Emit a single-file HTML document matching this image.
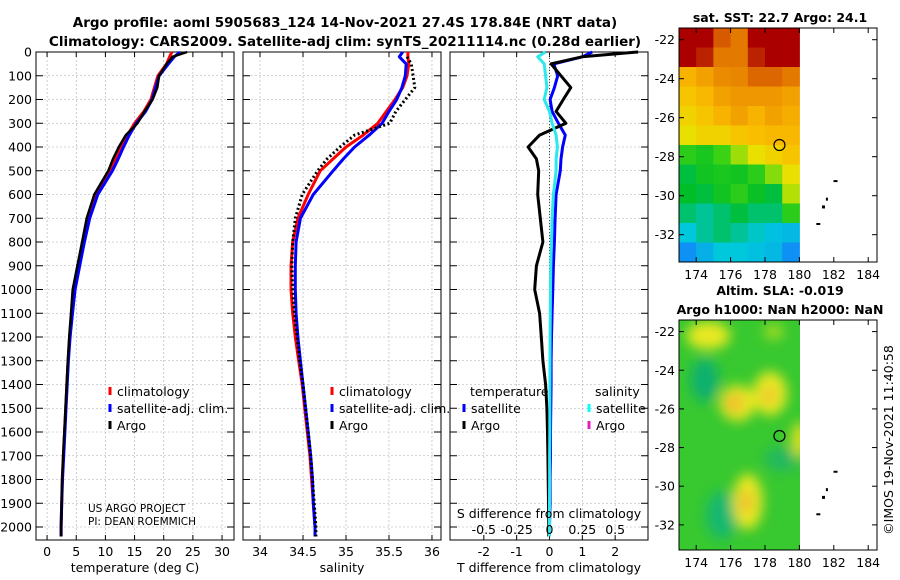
<!DOCTYPE html>
<html><head><meta charset="utf-8"><style>
body{margin:0;background:#fff}
svg{display:block;font-family:"DejaVu Sans","Liberation Sans",sans-serif}
</style></head><body>
<svg id="fig" width="900" height="580" viewBox="0 0 900 580" xmlns="http://www.w3.org/2000/svg">
<defs><filter id="blur" x="-50%" y="-50%" width="200%" height="200%"><feGaussianBlur stdDeviation="6"/></filter>
<clipPath id="slaclip"><rect x="679" y="320" width="121" height="230"/></clipPath></defs>
<text x="345" y="27" font-size="13.5" font-weight="bold" text-anchor="middle">Argo profile: aoml 5905683_124 14-Nov-2021 27.4S 178.84E (NRT data)</text>
<text x="345" y="46" font-size="13.5" font-weight="bold" text-anchor="middle">Climatology: CARS2009. Satellite-adj clim: synTS_20211114.nc (0.28d earlier)</text>
<g id="panels"></g>
<g id="maps"></g>
<text transform="translate(893,440) rotate(-90)" font-size="12.5" text-anchor="middle">©IMOS 19-Nov-2021 11:40:58</text>
</svg>
<script>
const depths=[0,20,50,100,150,200,250,300,350,400,450,500,600,700,800,900,1000,1100,1200,1300,1400,1500,1600,1700,1800,1900,2000,2040];
const tempClim=[21.4,21.0,20.5,19.0,18.4,17.8,16.6,15.0,13.8,12.7,11.8,10.8,8.3,7.0,6.2,5.5,4.7,4.3,3.9,3.6,3.4,3.2,3.0,2.8,2.6,2.5,2.4,2.4];
const tempSat=[22.8,21.8,20.8,19.2,18.6,18.0,16.9,15.3,14.1,13.1,12.2,11.2,8.7,7.3,6.4,5.6,4.8,4.35,3.95,3.65,3.45,3.25,3.05,2.85,2.65,2.5,2.4,2.4];
const tempArgo=[24.0,21.5,20.5,19.2,18.9,18.1,16.7,15.5,13.5,12.3,11.3,10.5,8.1,6.8,6.0,5.2,4.4,4.1,3.8,3.55,3.35,3.15,2.95,2.75,2.6,2.5,2.4,2.4];
const salClim=[35.72,35.72,35.73,35.71,35.66,35.57,35.47,35.37,35.2,35.0,34.85,34.70,34.56,34.44,34.38,34.36,34.36,34.38,34.41,34.45,34.49,34.52,34.55,34.58,34.60,34.62,34.64,34.64];
const salSat=[35.66,35.62,35.70,35.69,35.65,35.59,35.5,35.42,35.27,35.1,34.97,34.85,34.62,34.47,34.42,34.41,34.41,34.42,34.44,34.47,34.5,34.53,34.56,34.59,34.61,34.62,34.64,34.64];
const salArgo=[null,35.71,35.76,35.78,35.8,35.69,35.58,35.51,35.1,34.93,34.78,34.67,34.49,34.41,34.38,34.37,34.38,34.4,34.43,34.46,34.5,34.53,34.56,34.59,34.61,34.63,34.65,34.65];
const dTArgo=[2.7,1.0,0.05,0.35,0.65,0.42,0.2,0.5,-0.3,-0.65,-0.4,-0.33,-0.36,-0.28,-0.2,-0.4,-0.45,-0.3,-0.25,-0.2,-0.12,-0.08,-0.06,-0.05,-0.04,-0.03,-0.02,-0.02];
const dTSat=[1.3,1.0,0.13,0.25,0.15,0.02,0.08,0.27,0.48,0.4,0.35,0.33,0.2,0.17,0.15,0.12,0.1,0.08,0.06,0.05,0.05,0.04,0.03,0.03,0.02,0.02,0.0,0.0];
const dSSat=[-0.03,-0.09,-0.04,-0.03,-0.02,-0.04,0.0,0.02,0.05,0.06,0.05,0.05,0.03,0.02,0.015,0.01,0.008,0.006,0.005,0.004,0.003,0.002,0.002,0.001,0.001,0.0,0.0,0.0];
const depthTicks=[0,100,200,300,400,500,600,700,800,900,1000,1100,1200,1300,1400,1500,1600,1700,1800,1900,2000];
const tTicks=[0,5,10,15,20,25,30];
const sTicks=[34,34.5,35,35.5,36];
const dTTicks=[-2,-1,0,1,2];
const dTTickLabels=["-2","-1","0","1","2"];
const dSTicks=[-0.5,-0.25,0,0.25,0.5];
const dSTickLabels=["-0.5","-0.25","0","0.25","0.5"];
const sstLats=[-21.4,-22.4,-23.4,-24.4,-25.4,-26.4,-27.4,-28.4,-29.4,-30.4,-31.4,-32.4,-33.4];
const sstLons=[173,174,175,176,177,178,179,180];
const sstVals=[
[26,26,25,24.5,26,26,26],[26,25.5,24.5,24.5,25.5,26,26],[23.5,23.8,24.2,24.3,24.8,24.8,24.5],
[23.2,23.4,23.8,24,24,24,23.8],[23,23.2,23.5,23.8,23.5,23.8,23.6],[22.8,23,23,23.2,23.3,23.4,23.4],
[21.8,21.6,22,22.4,22.8,23,23.2],[21.2,21.5,21.6,21.5,21.8,22.3,22.8],[21.3,21.2,21.5,21.8,21.4,21.2,22.5],
[21,20.8,21,21.2,21,21,21.8],[20.5,20.8,21,20.8,20.6,20.4,20.3],[19.8,20.2,20.5,20.5,20.4,20.3,19.8]];
const latTicks=[-22,-24,-26,-28,-30,-32];
const lonTicks=[174,176,178,180,182,184];
const NS="http://www.w3.org/2000/svg";
function mk(tag,attrs,parent,txt){const e=document.createElementNS(NS,tag);for(const k in attrs)e.setAttribute(k,attrs[k]);if(txt!==undefined)e.textContent=txt;parent.appendChild(e);return e;}
const P=document.getElementById('panels');
const Y=d=>52+d*0.2375;
function panel(x0,x1,xmin,xmax,ticks,labels,name,title){
 const g=mk('g',{},P);
 const X=v=>x0+(v-xmin)/(xmax-xmin)*(x1-x0);
 ticks.forEach((t,i)=>{const l=mk('line',{x1:X(t),x2:X(t),y1:52,y2:540,stroke:'#aab',"stroke-width":0.6,"stroke-dasharray":'2,2'},g);
   
   const tx=mk('text',{x:X(t),y:556,"font-size":12.5,"text-anchor":"middle"},g,labels[i]);
   
   mk('line',{x1:X(t),x2:X(t),y1:540,y2:535,stroke:'#000'},g);mk('line',{x1:X(t),x2:X(t),y1:52,y2:57,stroke:'#000'},g);});
 depthTicks.forEach(d=>{mk('line',{x1:x0,x2:x1,y1:Y(d),y2:Y(d),stroke:'#aab',"stroke-width":0.6,"stroke-dasharray":'2,2'},g);
   mk('line',{x1:x0,x2:x0+7,y1:Y(d),y2:Y(d),stroke:'#000'},g);mk('line',{x1:x1,x2:x1-7,y1:Y(d),y2:Y(d),stroke:'#000'},g);});
 const fr=mk('rect',{x:x0,y:52,width:x1-x0,height:488,fill:'none',stroke:'#000',"stroke-width":1},g);
 
 const at=mk('text',{x:(x0+x1)/2,y:572,"font-size":12.5,"text-anchor":"middle"},g,title);
 
 return {g,X};
}
function series(p,vals,color,name,dash,w){
 let d='';vals.forEach((v,i)=>{if(v===null)return;d+=(d?'L':'M')+p.X(v).toFixed(1)+','+Y(depths[i]).toFixed(1);});
 const e=mk('path',{d,fill:'none',stroke:color,"stroke-width":w||3,"stroke-linejoin":"round"},p.g);
 if(dash)e.setAttribute('stroke-dasharray',dash);
 
}
function legend(g,x,y,color,label,name){
 mk('line',{x1:x,x2:x,y1:y-9,y2:y-1,stroke:color,"stroke-width":3},g);
 const t=mk('text',{x:x+7,y:y,"font-size":12.5},g,label);
 
}
depthTicks.forEach(d=>{const t=mk('text',{x:32,y:Y(d)+4.5,"font-size":12.5,"text-anchor":"end"},P,String(d));
 });
const p1=panel(36,234,-1.9,32.05,tTicks,tTicks.map(String),'temperature-panel','temperature (deg C)');
series(p1,tempClim,'#f00','temp-climatology-line');series(p1,tempSat,'#00f','temp-satellite-line');series(p1,tempArgo,'#000','temp-argo-line',null,2.5);
legend(p1.g,110,396,'#f00','climatology','legend-climatology');legend(p1.g,110,413,'#00f','satellite-adj. clim.','legend-satellite');legend(p1.g,110,430,'#000','Argo','legend-argo');
let t1=mk('text',{x:88,y:512,"font-size":10.5},p1.g,'US ARGO PROJECT');
let t2=mk('text',{x:88,y:525,"font-size":10.5},p1.g,'PI: DEAN ROEMMICH');
const p2=panel(243,441,33.802,36.105,sTicks,sTicks.map(String),'salinity-panel','salinity');
series(p2,salClim,'#f00','sal-climatology-line');series(p2,salSat,'#00f','sal-satellite-line');series(p2,salArgo,'#000','sal-argo-line','2,2.5',3);
legend(p2.g,332,396,'#f00','climatology','legend-climatology');legend(p2.g,332,413,'#00f','satellite-adj. clim.','legend-satellite');legend(p2.g,332,430,'#000','Argo','legend-argo');
const p3=panel(450,648,-3.03,3.0,dTTicks,dTTickLabels,'difference-panel','T difference from climatology');
mk('line',{x1:p3.X(0),x2:p3.X(0),y1:52,y2:540,stroke:'#444',"stroke-width":1,"stroke-dasharray":'1,2'},p3.g);
series(p3,dTSat,'#00f','temp-diff-satellite-line');series(p3,dTArgo,'#000','temp-diff-argo-line');
series(p3,dSSat.map(v=>v*4),'#2ee8ee','sal-diff-satellite-line',null,3);
let tt=mk('text',{x:470,y:396,"font-size":12.5},p3.g,'temperature');
let ts=mk('text',{x:595,y:396,"font-size":12.5},p3.g,'salinity');
legend(p3.g,464,413,'#00f','satellite','legend-temp-satellite');legend(p3.g,464,430,'#000','Argo','legend-temp-argo');
legend(p3.g,589,413,'#0ff','satellite','legend-sal-satellite');legend(p3.g,589,430,'#e020c0','Argo','legend-sal-argo');
let sd=mk('text',{x:549,y:518,"font-size":12.5,"text-anchor":"middle"},p3.g,'S difference from climatology');
dSTicks.forEach((v,i)=>{const t=mk('text',{x:p3.X(v*4),y:534,"font-size":12.5,"text-anchor":"middle"},p3.g,dSTickLabels[i]);
 });
const M=document.getElementById('maps');
function sstColor(v){const st=[[19.5,[20,120,255]],[20.5,[0,200,220]],[21.3,[0,190,40]],[22.0,[60,210,20]],[22.7,[230,230,0]],[23.3,[250,190,0]],[24.2,[235,140,0]],[25.0,[215,90,0]],[25.8,[170,0,0]]];
 if(v<=st[0][0])return 'rgb('+st[0][1]+')';for(let i=1;i<st.length;i++){if(v<=st[i][0]){const f=(v-st[i-1][0])/(st[i][0]-st[i-1][0]);const c=st[i-1][1].map((a,k)=>Math.round(a+(st[i][1][k]-a)*f));return 'rgb('+c+')';}}return 'rgb('+st[st.length-1][1]+')';}
function mapAxes(y0,y1,latTop,latBot,name,titles){
 const g=mk('g',{},M);
 const LX=l=>679+(l-173)*17.2;const LY=l=>y0+(latTop-l)/(latTop-latBot)*(y1-y0);
 titles.forEach((t,i)=>{const e=mk('text',{x:780,y:y0-6-(titles.length-1-i)*19,"font-size":12.5,"font-weight":"bold","text-anchor":"middle"},g,t);
  });
 return {g,LX,LY,finish(){
  mk('rect',{x:679,y:y0,width:198,height:y1-y0,fill:'none',stroke:'#000'},g);
  latTicks.forEach(l=>{mk('line',{x1:679,x2:684,y1:LY(l),y2:LY(l),stroke:'#000'},g);mk('line',{x1:877,x2:872,y1:LY(l),y2:LY(l),stroke:'#000'},g);
   const t=mk('text',{x:675,y:LY(l)+4.5,"font-size":12.5,"text-anchor":"end"},g,String(l));});
  lonTicks.forEach(l=>{mk('line',{x1:LX(l),x2:LX(l),y1:y1,y2:y1-5,stroke:'#000'},g);mk('line',{x1:LX(l),x2:LX(l),y1:y0,y2:y0+5,stroke:'#000'},g);
   const t=mk('text',{x:LX(l),y:y1+17,"font-size":12.5,"text-anchor":"middle"},g,String(l));});
  [[182.1,-29.2,4,2],[181.6,-30.1,2,3],[181.4,-30.5,3,3],[181.1,-31.4,4,2]].forEach(a=>mk('rect',{x:LX(a[0])-a[2]/2,y:LY(a[1]),width:a[2],height:a[3],fill:'#000'},g));
  const c=mk('circle',{cx:LX(178.84),cy:LY(-27.4),r:5.5,fill:'none',stroke:'#000',"stroke-width":1.2},g);
  
 }};
}
const m1=mapAxes(28,262,-21.4,-33.4,'sst-map',['sat. SST: 22.7 Argo: 24.1']);
sstVals.forEach((row,r)=>row.forEach((v,c)=>{const x=m1.LX(sstLons[c]),y=m1.LY(sstLats[r]);
 const e=mk('rect',{x:x,y:y,width:m1.LX(sstLons[c+1])-x+0.5,height:m1.LY(sstLats[r+1])-y+0.5,fill:sstColor(v)},m1.g);
 }));
m1.finish();
const m2=mapAxes(320,550,-21.4,-33.3,'sla-map',['Altim. SLA: -0.019','Argo h1000: NaN h2000: NaN']);
const sg=mk('g',{"clip-path":"url(#slaclip)"},m2.g);
mk('rect',{x:679,y:320,width:121,height:230,fill:'#38c830'},sg);
const bl=mk('g',{filter:'url(#blur)'},sg);
[[174.5,-24.5,14,22,'#10b070'],[175.5,-31.5,16,24,'#18b870'],[179,-28.6,18,12,'#20b860'],[174.7,-22.2,22,14,'#e8e820'],[176.4,-25.7,18,18,'#e8e820'],[176.2,-25.7,9,9,'#f0b830'],[178.3,-25.2,17,22,'#e8e820'],[178.2,-25.3,7,8,'#f0c030'],[177,-30.8,15,28,'#e8e820'],[176.9,-30.8,6,12,'#f0b830'],[180,-27.6,8,18,'#e0e020'],[178.5,-22,10,8,'#a0dc20']].forEach(b=>mk('ellipse',{cx:m2.LX(b[0]),cy:m2.LY(b[1]),rx:b[2],ry:b[3],fill:b[4]},bl));
m2.finish();
</script>
</body></html>
